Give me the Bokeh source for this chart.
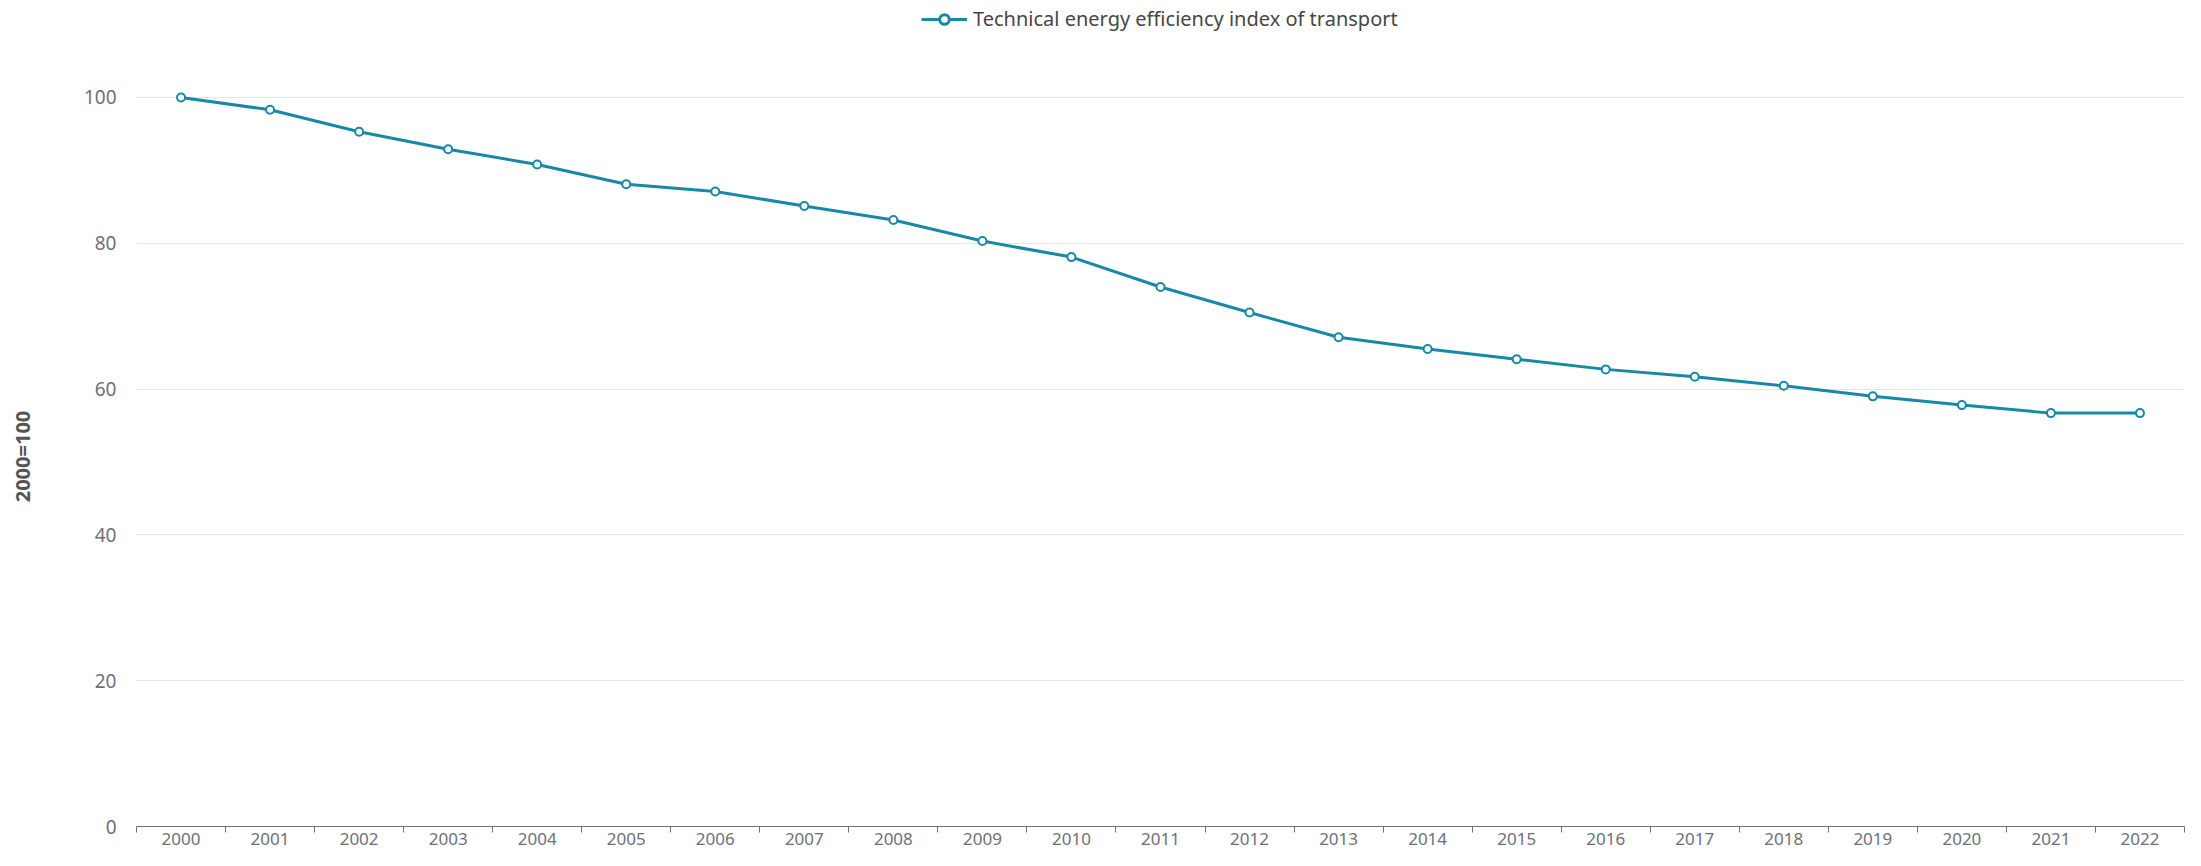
from bokeh.plotting import figure
from bokeh.layouts import column
from bokeh.models import FixedTicker, Legend, LegendItem, Range1d
from bokeh.embed import file_html
from bokeh.resources import INLINE

years = list(range(2000, 2023))
index_values = [100, 98.3, 95.3, 92.9, 90.8, 88.1, 87.1, 85.1, 83.2, 80.3, 78.1,
                74.0, 70.5, 67.1, 65.5, 64.1, 62.7, 61.7, 60.45, 59.0, 57.8, 56.7, 56.7]
series_name = "Technical energy efficiency index of transport"
y_title = "2000=100"
y_ticks = [0, 20, 40, 60, 80, 100]

COLOR = "#1789a6"
FONT = "Noto Sans"
LABEL_COLOR = "#6e7079"
W = 2185
LEG_H = 36
TOTAL_H = 850

# ---- legend strip (separate small figure above the chart) ----
lg = figure(width=W, height=LEG_H, output_backend="svg", toolbar_location=None,
            x_axis_type=None, y_axis_type=None, x_range=Range1d(0, 1), y_range=Range1d(0, 1),
            min_border=0)
lg.outline_line_color = None
lg.xgrid.grid_line_color = None
lg.ygrid.grid_line_color = None
lg_line = lg.line([-5, -4], [-5, -4], line_color=COLOR, line_width=3)
lg_pt = lg.scatter([-5], [-5], size=13, fill_color="white", line_color=COLOR, line_width=3)
legend = Legend(items=[LegendItem(label=series_name, renderers=[lg_line, lg_pt])],
                location=(785, 4), orientation="horizontal",
                glyph_width=46, glyph_height=24, label_standoff=6, label_height=24,
                label_text_font=FONT, label_text_font_size="20px", label_text_color="#464646",
                padding=0, margin=0, spacing=0, border_line_color=None,
                background_fill_alpha=0)
lg.add_layout(legend, "center")

# ---- main chart ----
p = figure(width=W, height=TOTAL_H - LEG_H, output_backend="svg", toolbar_location=None,
           x_range=Range1d(years[0] - 0.5, years[-1] + 0.5), y_range=Range1d(0, 101.5),
           min_border_left=136, min_border_right=1, min_border_top=50, min_border_bottom=24)
p.outline_line_color = None

line_r = p.line(years, index_values, line_color=COLOR, line_width=3)
pt_r = p.scatter(years, index_values, size=8, fill_color="white", line_color=COLOR, line_width=2)

xa = p.xaxis[0]
xa.ticker = FixedTicker(ticks=years, minor_ticks=[y - 0.5 for y in years] + [years[-1] + 0.5])
xa.major_tick_line_color = None
xa.minor_tick_in = 0
xa.minor_tick_out = 6
xa.minor_tick_line_color = LABEL_COLOR
xa.axis_line_color = LABEL_COLOR
xa.major_label_text_font = FONT
xa.major_label_text_font_size = "17px"
xa.major_label_text_color = LABEL_COLOR
xa.major_label_standoff = 0
xa.major_label_overrides = {y: str(y) for y in years}

ya = p.yaxis[0]
ya.ticker = FixedTicker(ticks=y_ticks)
ya.axis_line_color = None
ya.major_tick_line_color = None
ya.minor_tick_line_color = None
ya.major_label_text_font = FONT
ya.major_label_text_font_size = "19px"
ya.major_label_text_color = LABEL_COLOR
ya.major_label_standoff = 14
ya.axis_label = y_title
ya.axis_label_text_font = FONT
ya.axis_label_text_font_size = "20px"
ya.axis_label_text_font_style = "bold"
ya.axis_label_text_color = "#555555"
ya.axis_label_standoff = 45

p.xgrid.grid_line_color = None
p.ygrid.grid_line_color = "#e0e6f1"
p.ygrid.grid_line_width = 1

layout = column(lg, p, spacing=0)
open("out.html", "w").write(file_html(layout, INLINE))
